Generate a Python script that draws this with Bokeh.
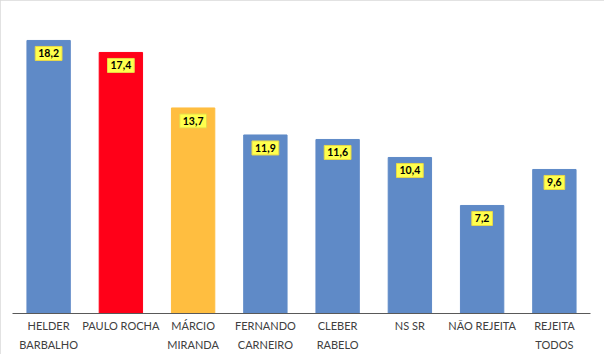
from bokeh.plotting import figure
from bokeh.models import ColumnDataSource, Range1d, FactorRange
from bokeh.core.properties import value
from bokeh.embed import file_html
from bokeh.resources import INLINE

categories = ["HELDER\nBARBALHO", "PAULO ROCHA", "MÁRCIO\nMIRANDA", "FERNANDO\nCARNEIRO",
              "CLEBER\nRABELO", "NS SR", "NÃO REJEITA", "REJEITA\nTODOS"]
values = [18.2, 17.4, 13.7, 11.9, 11.6, 10.4, 7.2, 9.6]
value_labels = ["18,2", "17,4", "13,7", "11,9", "11,6", "10,4", "7,2", "9,6"]

BLUE = "#5F8AC7"
colors = [BLUE, "#FF0018", "#FFBE40", BLUE, BLUE, BLUE, BLUE, BLUE]

src = ColumnDataSource(dict(cat=categories, val=values, lab=value_labels, col=colors))

p = figure(width=604, height=354, output_backend="svg", toolbar_location=None,
           x_range=FactorRange(factors=categories, range_padding=0),
           y_range=Range1d(0, 19.53))
p.min_border_left = 12
p.min_border_right = 14
p.min_border_top = 20
p.min_border_bottom = 40
p.outline_line_color = None
p.background_fill_color = "white"
p.border_fill_color = "white"
p.xgrid.visible = False
p.ygrid.visible = False
p.yaxis.visible = False
p.styles = {"outline": "1px solid #D9D9D9", "outline-offset": "-1px"}

p.vbar(x="cat", top="val", width=0.6, fill_color="col", line_color="col", source=src)

p.text(x="cat", y="val", text="lab", source=src, text_align="center",
       text_baseline="top", y_offset=6, text_font=value("Lato"), text_font_size="10.5px",
       text_font_style="bold", text_color="black",
       background_fill_color="#FFFF4D", border_line_color="#E8D84A",
       border_line_width=1, padding=3)

ax = p.xaxis[0]
ax.axis_line_color = "#595959"
ax.axis_line_width = 1
ax.major_tick_line_color = None
ax.minor_tick_line_color = None
ax.major_tick_out = 0
ax.major_tick_in = 0
ax.major_label_standoff = 5
ax.major_label_text_font = "Lato"
ax.major_label_text_font_size = "11px"
ax.major_label_text_line_height = 1.5
ax.major_label_text_color = "#404040"

open("out.html", "w").write(file_html(p, INLINE))
